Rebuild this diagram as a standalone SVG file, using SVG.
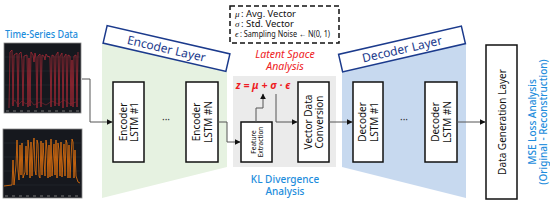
<svg xmlns="http://www.w3.org/2000/svg" width="550" height="204" viewBox="0 0 550 204">
<defs>
<marker id="ah" viewBox="0 0 10 10" refX="9" refY="5" markerWidth="6" markerHeight="6" orient="auto" markerUnits="userSpaceOnUse">
<path d="M0,0 L10,5 L0,10 z" fill="#111"/>
</marker>
<style>
.box{fill:#fff;stroke:#111;stroke-width:1.5}
.lbl{font-family:"Noto Sans","Open Sans",sans-serif;font-size:10px;fill:#111;text-anchor:middle}
.small{font-size:6.5px}
.con{fill:none;stroke:#555;stroke-width:1;marker-end:url(#ah)}
.ban{fill:#fff;stroke:#1b3a8c;stroke-width:1.5}
.bant{font-family:"Noto Sans","Open Sans",sans-serif;font-size:12px;fill:#1b3a8c;text-anchor:middle}
.blue{font-family:"Noto Sans","Open Sans",sans-serif;font-size:10px;fill:#1e8ddc;text-anchor:middle;font-weight:500}
.red{font-family:"Noto Sans","Open Sans",sans-serif;font-size:10.5px;fill:#ee1c24;text-anchor:middle;font-style:italic}
.leg{font-family:"Noto Sans","Open Sans",sans-serif;font-size:8.5px;fill:#111}
.gk{font-family:"Liberation Serif",serif;font-style:italic;font-size:9px;fill:#111}
.dots{font-family:"Noto Sans",sans-serif;font-size:10px;fill:#333;text-anchor:middle}
</style>
</defs>
<rect width="550" height="204" fill="#fff"/>

<!-- background regions -->
<polygon points="102,43 227,70 227,167 102,198" fill="#e6f2e1"/>
<rect x="233" y="76" width="103" height="91" fill="#ebebeb"/>
<polygon points="342,70 466,42 466,198 342,167" fill="#c7d9ef"/>

<!-- time series charts -->
<g id="ts-title"><text x="5" y="38" class="blue" style="text-anchor:start" font-weight="600" textLength="73" lengthAdjust="spacingAndGlyphs">Time-Series Data</text></g>
<g id="chart1">
<rect x="4" y="43" width="77" height="70" fill="#16181e" stroke="#888" stroke-width="0.8"/>
<g stroke="#2a2e36" stroke-width="0.5"><path d="M5,57 H80 M5,71 H80 M5,85 H80 M5,99 H80"/></g>
<path d="M9,108 L10,52 L12,50 L13,106 L14,55 L17,53 L18,107 L19,54 L21,52 L22,60 L23,106 L24,56 L27,55 L28,107 L29,58 L30,106 L31,52 L33,55 L34,62 L35,53 L36,58 L37,108 L38,56 L40,54 L41,107 L42,55 L44,56 L45,60 L46,54 L48,57 L49,56 L50,58 L51,107 L52,55 L54,56 L55,106 L56,55 L58,52 L59,106 L60,56 L62,53 L63,108 L64,57 L66,54 L67,107 L68,55 L70,56 L71,106 L72,60 L73,107 L74,56 L76,55 L77,107 L78,52" fill="none" stroke="#b52a36" stroke-width="0.7"/>
<path d="M12,104 L15,100 L18,105 L22,101 L26,104 L30,100 L34,105 L40,102 L46,105 L52,101 L58,104 L64,100 L70,104 L76,102" fill="none" stroke="#8a2530" stroke-width="0.6"/>
<path d="M6,111 H80" stroke="#777" stroke-width="1" stroke-dasharray="3,4"/>
</g>
<g id="chart2">
<rect x="3" y="129" width="79" height="69" fill="#16181e" stroke="#888" stroke-width="0.8"/>
<g stroke="#2a2e36" stroke-width="0.5"><path d="M4,143 H81 M4,157 H81 M4,171 H81 M4,185 H81"/></g>
<path d="M4,186 L12,185 L13,160 L14,185 L16,165 L17,140 L18,170 L19,180 L20,145 L21,175 L22,143 L23,178 L25,172 L26,146 L27,175 L28,140 L29,150 L30,178 L31,142 L32,176 L33,150 L34,138 L35,170 L36,175 L37,140 L38,144 L39,176 L40,178 L41,141 L42,175 L43,143 L44,160 L45,176 L46,140 L47,150 L48,178 L49,145 L50,177 L51,139 L52,176 L54,144 L55,175 L56,140 L57,178 L58,143 L59,150 L60,176 L61,142 L62,177 L64,144 L65,176 L66,140 L67,143 L68,178 L69,145 L70,178 L72,139 L73,142 L74,178 L75,150 L76,176 L78,182 L80,183" fill="none" stroke="#e8730c" stroke-width="0.8"/>
<path d="M5,196 H81" stroke="#777" stroke-width="1" stroke-dasharray="3,4"/>
</g>

<!-- banners -->
<g id="encoder-banner" transform="translate(166.5,48.5) rotate(13)">
<rect x="-63" y="-9" width="126" height="18" class="ban"/>
<text x="0" y="4.5" class="bant">Encoder Layer</text>
</g>
<g id="decoder-banner" transform="translate(402,49) rotate(-13)">
<rect x="-63" y="-9" width="126" height="18" class="ban"/>
<text x="0" y="4.5" class="bant">Decoder Layer</text>
</g>

<!-- legend -->
<g id="legend">
<rect x="230" y="6" width="109" height="37" fill="#fff" stroke="#111" stroke-width="1.5" stroke-dasharray="5,3"/>
<text x="235" y="17" class="gk">μ</text><text x="241" y="17" class="leg" textLength="55" lengthAdjust="spacingAndGlyphs">: Avg. Vector</text>
<text x="235" y="26.5" class="gk">σ</text><text x="241" y="26.5" class="leg" textLength="53" lengthAdjust="spacingAndGlyphs">: Std. Vector</text>
<text x="235" y="36.5" class="gk">ϵ</text><text x="240" y="36.5" class="leg" textLength="90" lengthAdjust="spacingAndGlyphs">: Sampling Noise ← N(0, 1)</text>
</g>

<g id="latent-label"><text x="285" y="57.5" class="red">Latent Space</text><text x="285" y="70" class="red">Analysis</text></g>
<g id="kl-label"><text x="285" y="182.5" class="blue">KL Divergence</text><text x="285" y="195" class="blue">Analysis</text></g>
<g id="z-formula"><text x="263" y="89" class="red" font-size="9.5" font-weight="bold" font-family="Liberation Serif,serif">z = μ + σ · ϵ</text></g>

<!-- nodes -->
<g id="enc1"><rect x="113" y="82" width="31" height="80" class="box"/>
<text transform="translate(128.5,122) rotate(-90)" class="lbl"><tspan x="0" y="-2">Encoder</tspan><tspan x="0" y="9.5">LSTM #1</tspan></text></g>
<g id="enc-dots"><text x="166" y="123" class="dots">···</text></g>
<g id="encN"><rect x="186" y="82" width="32" height="80" class="box"/>
<text transform="translate(202,122) rotate(-90)" class="lbl"><tspan x="0" y="-2">Encoder</tspan><tspan x="0" y="9.5">LSTM #N</tspan></text></g>
<g id="feature"><rect x="241" y="122" width="31" height="40" class="box"/>
<text transform="translate(256.5,142) rotate(-90)" class="lbl small"><tspan x="0" y="-1">Feature</tspan><tspan x="0" y="6.5">Extraction</tspan></text></g>
<g id="vdc"><rect x="298" y="82" width="31" height="80" class="box"/>
<text transform="translate(313.5,122) rotate(-90)" class="lbl"><tspan x="0" y="-2">Vector Data</tspan><tspan x="0" y="9.5">Conversion</tspan></text></g>
<g id="dec1"><rect x="353" y="82" width="30" height="80" class="box"/>
<text transform="translate(368,122) rotate(-90)" class="lbl"><tspan x="0" y="-2">Decoder</tspan><tspan x="0" y="9.5">LSTM #1</tspan></text></g>
<g id="dec-dots"><text x="404" y="123" class="dots">···</text></g>
<g id="decN"><rect x="425" y="82" width="32" height="80" class="box"/>
<text transform="translate(441,122) rotate(-90)" class="lbl"><tspan x="0" y="-2">Decoder</tspan><tspan x="0" y="9.5">LSTM #N</tspan></text></g>
<g id="datagen"><rect x="486" y="45" width="31" height="154" class="box"/>
<text transform="translate(501.5,122) rotate(-90)" class="lbl" font-size="10.5"><tspan x="0" y="4">Data Generation Layer</tspan></text></g>
<g id="mse-label"><text transform="translate(537.5,122) rotate(-90)" class="blue" font-size="10"><tspan x="0" y="-2">MSE Loss Analysis</tspan><tspan x="0" y="9.5">(Original - Reconstruction)</tspan></text></g>

<!-- connectors -->
<g id="connectors">
<path d="M82,79 H90 V122 H112" class="con"/>
<path d="M218,122 H227 V142 H240" class="con"/>
<path d="M256,122 V108 H263 V94" class="con"/>
<path d="M276,94 V122 H297" class="con"/>
<path d="M329,122 H352" class="con"/>
<path d="M457,122 H485" class="con"/>
</g>
</svg>
